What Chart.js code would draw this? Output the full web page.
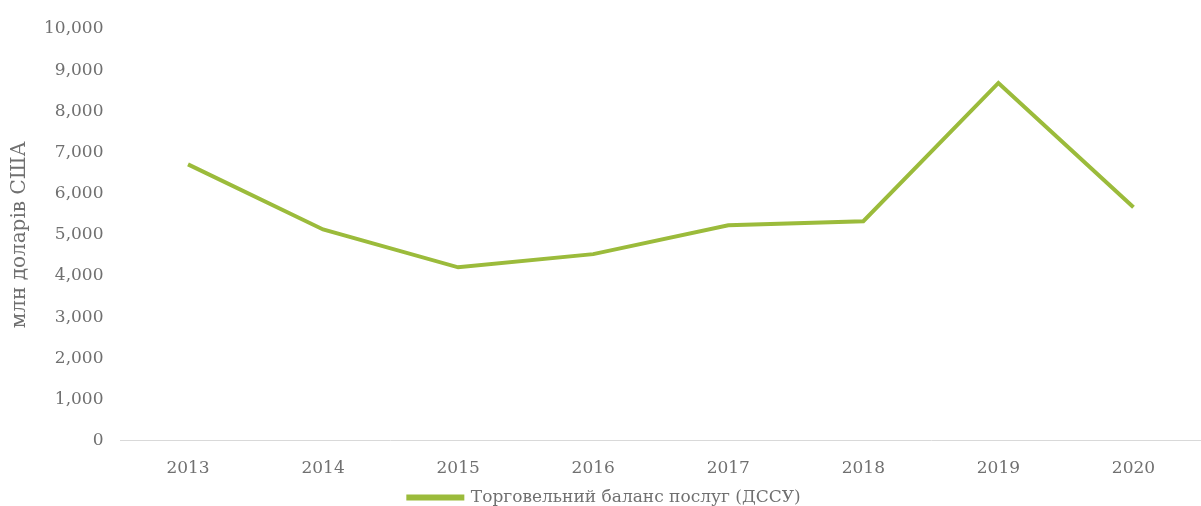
<!DOCTYPE html>
<html lang="uk">
<head>
    <meta charset="UTF-8">
    <title>Торговельний баланс послуг</title>
    <script src="https://cdn.jsdelivr.net/npm/chart.js"></script>
    <style>
        html, body { margin: 0; padding: 0; background: #fff; }
        .wrap { width: 1201px; height: 506px; }
    </style>
</head>
<body>
<div class="wrap">
    <canvas id="myChart"></canvas>
</div>
<script>
    // дані з графіка (млн доларів США)
    const roky = ['2013', '2014', '2015', '2016', '2017', '2018', '2019', '2020'];
    const balans = [6710, 5130, 4210, 4530, 5230, 5330, 8690, 5670];
    const nazvaSerii = 'Торговельний баланс послуг (ДССУ)';
    const tytulOsi = 'млн доларів США';

    const zelenyi = '#9bbb3b';
    const siryi = '#707070';
    const shryft = 'DejaVu Serif';

    const ctx = document.getElementById('myChart').getContext('2d');

    const myChart = new Chart(ctx, {
        type: 'line',
        data: {
            labels: roky,
            datasets: [{
                label: nazvaSerii,
                data: balans,
                borderColor: zelenyi,
                backgroundColor: zelenyi,
                borderWidth: 4,
                pointRadius: 0,
                tension: 0,
                fill: false
            }]
        },
        options: {
            responsive: true,
            maintainAspectRatio: false,
            animation: false,
            layout: {
                padding: { top: 29, right: 0, bottom: -10, left: 8 }
            },
            plugins: {
                legend: {
                    position: 'bottom',
                    labels: {
                        boxWidth: 54,
                        boxHeight: 2,
                        padding: 0,
                        color: siryi,
                        font: { family: shryft, size: 17 }
                    }
                },
                tooltip: { enabled: false }
            },
            scales: {
                y: {
                    min: 0,
                    max: 10000,
                    ticks: {
                        stepSize: 1000,
                        color: siryi,
                        padding: 9,
                        font: { family: shryft, size: 17 },
                        callback: v => v.toLocaleString('en-US')
                    },
                    grid: { display: false },
                    border: { display: false },
                    title: {
                        display: true,
                        text: tytulOsi,
                        color: siryi,
                        font: { family: shryft, size: 20 },
                        padding: { top: 0, bottom: 3 }
                    }
                },
                x: {
                    offset: true,
                    ticks: {
                        color: siryi,
                        padding: 10,
                        maxRotation: 0,
                        font: { family: shryft, size: 17 }
                    },
                    grid: { display: false },
                    border: { display: true, color: '#d9d9d9', width: 1 }
                }
            }
        }
    });
</script>
</body>
</html>
